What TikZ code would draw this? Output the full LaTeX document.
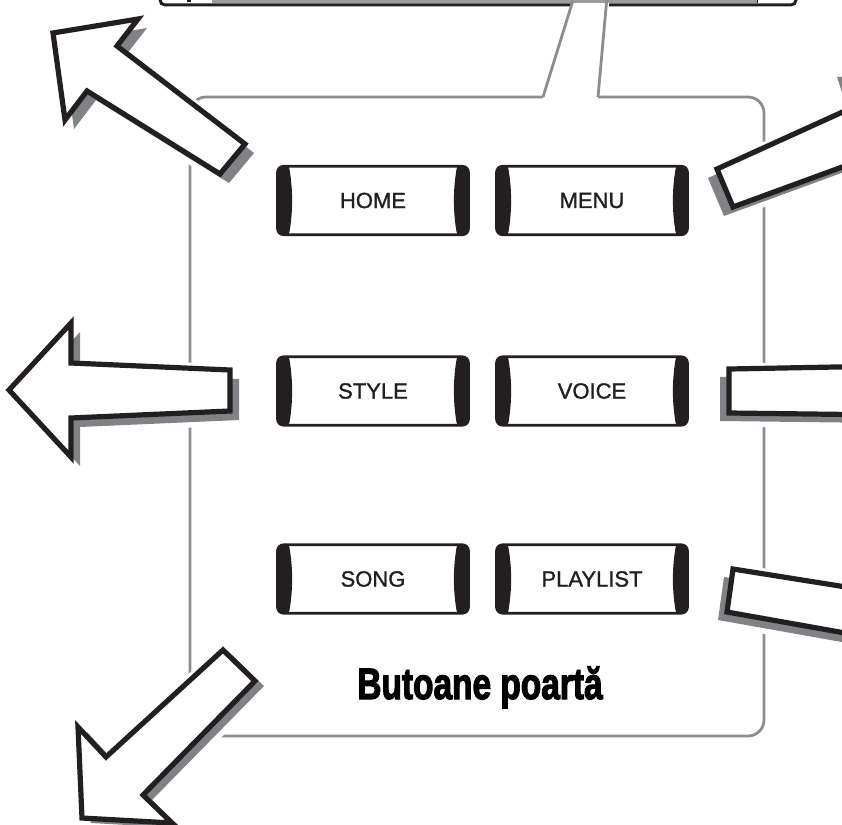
\documentclass[tikz,border=0pt]{standalone}
\usepackage{fontspec}
\setmainfont{Liberation Sans}
\newfontfamily\btnfont[FakeBold=1.2]{Liberation Sans}
\newfontfamily\heavyfont[FakeBold=3]{Liberation Sans Bold}
\definecolor{ink}{HTML}{231F20}
\definecolor{shadowgrey}{HTML}{808285}
\definecolor{boxgrey}{HTML}{8C8D90}
\definecolor{bargrey}{HTML}{9A9B9D}
\newcommand{\bigarrow}[3]{%
  \begin{scope}[shift={(#1,#2)}]\draw[halo] #3;\end{scope}
  \draw[halo] #3;
  \begin{scope}[shift={(#1,#2)}]\fill[shadowgrey] #3;\end{scope}
  \draw[arrowbody] #3;}
\tikzset{
  halo/.style={draw=white, line width=11pt, line join=round},
  arrowbody/.style={fill=white, draw=ink, line width=5.2pt, line join=miter, miter limit=4},
  boxline/.style={draw=boxgrey, line width=2.8pt},
  barline/.style={draw=ink, line width=3pt},
  btn/.style={rectangle, rounded corners=6pt, draw=ink, line width=2.6pt, fill=white,
    minimum width=191pt, minimum height=68.5pt, text=ink,
    font=\btnfont\fontsize{22}{24}\selectfont,
    path picture={
      \fill[ink] ([xshift=-3pt,yshift=3pt]path picture bounding box.north west)
        -- ([xshift=11pt,yshift=3pt]path picture bounding box.north west)
        .. controls ([xshift=15.5pt,yshift=-24pt]path picture bounding box.north west)
        and ([xshift=15.5pt,yshift=24pt]path picture bounding box.south west)
        .. ([xshift=11pt,yshift=-3pt]path picture bounding box.south west)
        -- ([xshift=-3pt,yshift=-3pt]path picture bounding box.south west) -- cycle;
      \fill[ink] ([xshift=3pt,yshift=3pt]path picture bounding box.north east)
        -- ([xshift=-11pt,yshift=3pt]path picture bounding box.north east)
        .. controls ([xshift=-15.5pt,yshift=-24pt]path picture bounding box.north east)
        and ([xshift=-15.5pt,yshift=24pt]path picture bounding box.south east)
        .. ([xshift=-11pt,yshift=-3pt]path picture bounding box.south east)
        -- ([xshift=3pt,yshift=-3pt]path picture bounding box.south east) -- cycle;
    }},
  titlefont/.style={font=\heavyfont\fontsize{44}{48}\selectfont, text=black}
}
\begin{document}
\begin{tikzpicture}[x=1pt,y=-1pt]
\useasboundingbox (0,0) rectangle (842,824);
\clip (0,0) rectangle (842,824);
\fill[white] (0,0) rectangle (842,824);

% top bar (bottom edge of the panel above)
\fill[bargrey] (212,-5) rectangle (757,3.2);
\draw[ink, line width=0.6pt] (757,-5) -- (757,3);
\fill[ink] (187,-2) rectangle (191,2);
\draw[barline, rounded corners=5pt] (160,-10) -- (160,5) -- (571,5);
\draw[barline, rounded corners=5pt] (609,5) -- (796,5) -- (796,-10);

% main panel with callout
\draw[boxline] (574,-3) -- (543,97);
\draw[boxline, rounded corners=16pt] (543,97) -- (190,97) -- (190,736) -- (764,736) -- (764,97) -- (598,97);
\draw[boxline] (598,97) -- (607,-3);

% buttons
\node[btn] (home) at (373,200.5) {HOME};
\node[btn] (menu) at (592,200.5) {MENU};
\node[btn] (style) at (373,391) {STYLE};
\node[btn] (voice) at (592,391) {VOICE};
\node[btn] (song) at (373,579) {SONG};
\node[btn] (playlist) at (592,579) {PLAYLIST};

% title
\node[titlefont, anchor=base] (title) at (480,699) {\scalebox{0.76}[1]{Butoane poartă}};

% big arrows
\bigarrow{9}{9}{(53,33) -- (138,19) -- (117,46) -- (245,144) -- (220,174) -- (87,91) -- (65,120) -- cycle}
\bigarrow{9}{9}{(9,390) -- (71,323) -- (71,363) -- (230,370) -- (230,411) -- (71,418) -- (71,457) -- cycle}
\bigarrow{9}{5}{(223,650) -- (255,681) -- (143,795) -- (172,823) -- (82,818) -- (78,727) -- (106,757) -- cycle}
\bigarrow{-9}{9}{(717,169) -- (858,105) -- (846,68) -- (990,60) -- (900,220) -- (875,155) -- (733,207) -- cycle}
\bigarrow{-9}{8}{(729,369) -- (890,366) -- (890,415) -- (729,413) -- cycle}
\bigarrow{-9}{8}{(733,569) -- (890,594) -- (890,641) -- (727,612) -- cycle}
\end{tikzpicture}
\end{document}
